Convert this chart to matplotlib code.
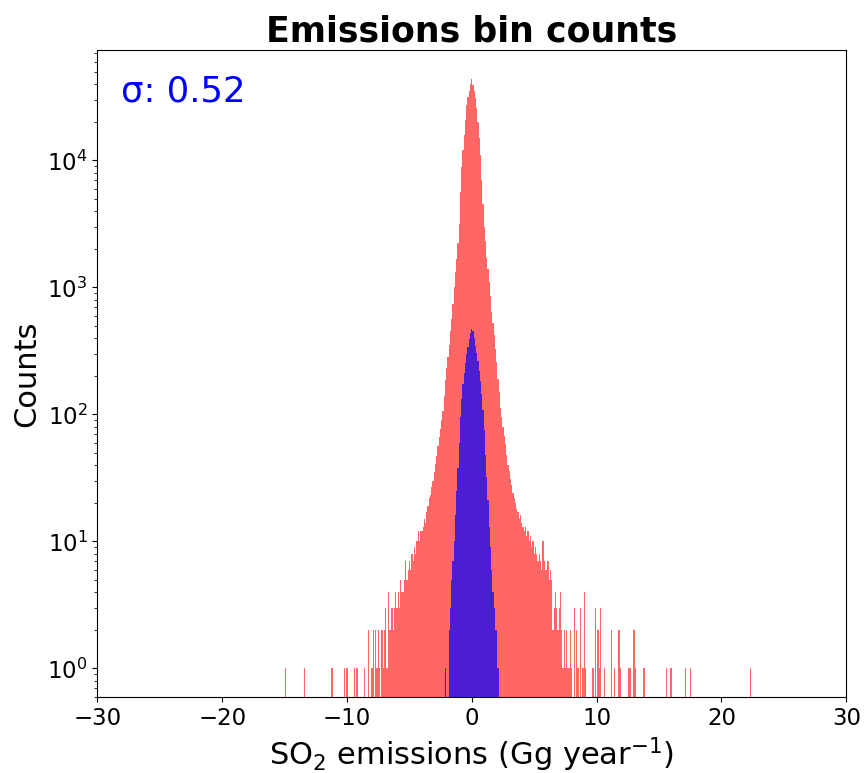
import numpy as np
import matplotlib
matplotlib.use("Agg")
import matplotlib.pyplot as plt

# bin width of both histograms (Gg/year)
bin_width = 0.1

# red histogram: dense core, bins centred from -8.0 to 8.0
red_core_start = -8.0
red_core_counts = [
    1, 2, 0, 2, 1, 2, 1, 0, 2, 1, 2, 3, 1, 4, 2, 2, 3, 2, 3, 4,
    3, 4, 3, 5, 4, 4, 5, 7, 5, 6, 7,
    6, 8, 7, 9, 8, 10, 12, 10, 12, 12, 13, 15, 14, 17, 19, 22, 23,
    27, 30, 35, 41, 47, 56, 66, 77, 90,
    107, 140, 185, 230, 285, 350, 450, 560, 740, 1000, 1320, 1660,
    2240, 3160, 5600, 8900, 12000, 15800, 20900, 27500, 31600, 35500, 39800,
    43600,
    39000, 35000, 31000, 26000, 20000, 15000, 11000, 7000, 4500, 3000,
    2300, 1700, 1400, 1100, 850, 640, 520, 420, 330, 260, 190, 150, 112,
    95, 80, 68, 58, 48, 40, 36,
    31, 28, 24, 22, 20, 18, 17, 15, 16, 14,
    13, 12, 13, 11, 12, 10, 11, 9, 10, 8,
    9, 8, 7, 8, 7, 6, 10, 7, 6, 6,
    7, 5, 6, 5, 2, 3, 4, 3, 2, 3,
    4, 2, 1, 2, 1, 2, 1, 1, 2, 1,
]
# red histogram: isolated outlier bins
red_tail_x = [-14.9, -13.4, -11.2, -10.2, -10.0, -9.4, -9.2, -8.6, -8.3,
              8.2, 8.4, 8.5, 8.7, 8.9, 9.0, 9.1, 9.7, 9.9, 10.1, 10.2, 10.3,
              10.6, 11.2, 11.4, 11.8, 11.9, 12.6, 12.7, 13.0, 13.1, 13.8,
              15.6, 15.9, 16.0, 17.1, 17.5, 22.3]
red_tail_counts = [1, 1, 1, 1, 1, 1, 1, 1, 2,
                   3, 2, 1, 3, 1, 4, 1, 1, 3, 2, 1, 3,
                   1, 2, 1, 2, 1, 1, 1, 2, 1, 1,
                   1, 1, 1, 1, 1, 1]

# blue histogram, bins centred from -2.1 to 2.1
blue_start = -2.1
blue_counts = [1, 0, 0, 2, 3, 5, 7, 10, 16, 25, 38, 60, 95, 133, 172, 210,
               255, 300, 340, 390, 440, 470, 455, 400, 345, 305, 262, 220,
               182, 145, 108, 75, 48, 32, 21, 13, 9, 6, 4, 3, 2, 2, 1]

sigma = 0.52

red_x = np.concatenate([red_core_start + bin_width * np.arange(len(red_core_counts)),
                        red_tail_x])
red_w = np.concatenate([red_core_counts, red_tail_counts])
blue_x = blue_start + bin_width * np.arange(len(blue_counts))
edges = np.linspace(-30.05, 30.05, 602)

fig = plt.figure(figsize=(8.65, 7.73), dpi=100)
ax = fig.add_axes([0.1125, 0.0979, 0.8659, 0.8374])

ax.hist(red_x, bins=edges, weights=red_w, color="red", alpha=0.6, log=True)
ax.hist(blue_x, bins=edges, weights=blue_counts, color="blue", alpha=0.7, log=True)

ax.set_xlim(-30, 30)
ax.set_ylim(0.592, 7.4e4)
ax.set_xticks([-30, -20, -10, 0, 10, 20, 30])
ax.tick_params(labelsize=16.5)
ax.set_title("Emissions bin counts", fontsize=25, fontweight="bold")
ax.set_xlabel("SO$_2$ emissions (Gg year$^{-1}$)", fontsize=22)
ax.set_ylabel("Counts", fontsize=22)
ax.text(0.031, 0.921, "σ: %.2f" % sigma, transform=ax.transAxes,
        color="blue", fontsize=25.5, va="baseline")

fig.savefig("out.png", dpi=100)
